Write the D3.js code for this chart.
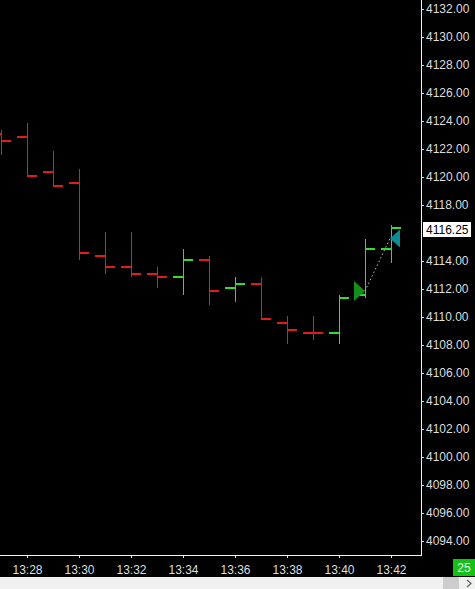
<!DOCTYPE html>
<html>
<head>
<meta charset="utf-8">
<script src="https://cdn.jsdelivr.net/npm/d3@7"></script>
<style>
  html, body { margin: 0; padding: 0; background: #000; }
  svg { display: block; }
  text { font-family: "Liberation Sans", Arial, sans-serif; }
</style>
</head>
<body>
<script>
// ---- data (1-minute OHLC bars) ----
const times  = ["13:27","13:28","13:29","13:30","13:31","13:32","13:33","13:34","13:35","13:36","13:37","13:38","13:39","13:40","13:41","13:42"];
const opens  = [4123.00,4122.75,4120.25,4119.50,4114.25,4113.50,4113.00,4112.75,4114.00,4112.00,4112.25,4109.50,4108.75,4108.75,4111.50,4114.75];
const highs  = [4123.25,4123.75,4121.75,4120.50,4116.00,4116.00,4113.50,4114.75,4114.25,4112.75,4112.75,4110.00,4110.00,4111.50,4115.50,4116.50];
const lows   = [4121.50,4120.00,4119.25,4114.00,4113.00,4112.75,4112.00,4111.50,4110.75,4111.00,4109.75,4108.00,4108.25,4108.00,4111.25,4113.75];
const closes = [4122.50,4120.00,4119.25,4114.50,4113.50,4113.00,4112.75,4114.00,4111.75,4112.25,4109.75,4109.00,4108.75,4111.25,4114.75,4116.25];

const xTickLabels = ["13:28","13:30","13:32","13:34","13:36","13:38","13:40","13:42"];
const yTickValues = [4094,4096,4098,4100,4102,4104,4106,4108,4110,4112,4114,4116,4118,4120,4122,4124,4126,4128,4130,4132];

// trade markers: entry (buy) and exit
const entryTime = "13:41", entryPrice = 4111.75;
const exitTime  = "13:42", exitPrice  = 4115.50;
const lastPrice = 4116.25;
const barCounter = "25";

// ---- layout ----
const W = 475, H = 589;
const axisX = 421, axisY = 555;
const parse = d3.timeParse("%H:%M");
const fmt = d3.timeFormat("%H:%M");

const x = d3.scaleTime().domain([parse("13:27"), parse("13:42")]).range([1, 391]);
const y = d3.scaleLinear().domain([4094, 4132]).range([541, 9]);

const bars = times.map((t, i) => ({ t: parse(t), o: opens[i], h: highs[i], l: lows[i], c: closes[i] }));

const RED = "#e01c1c", GREEN = "#33dd33", FG = "#dedede";

const svg = d3.select("body").append("svg").attr("width", W).attr("height", H);
svg.append("rect").attr("width", W).attr("height", H).attr("fill", "#000");

// plot area clip
svg.append("clipPath").attr("id", "plot").append("rect")
  .attr("x", 0).attr("y", 0).attr("width", axisX).attr("height", axisY);

const g = svg.append("g").attr("clip-path", "url(#plot)")
  .append("g").attr("transform", "translate(0,-1.5)");

const bg = g.selectAll("g.bar").data(bars).join("g").attr("class", "bar")
  .attr("stroke", d => d.c > d.o ? GREEN : RED)
  .attr("shape-rendering", "crispEdges");

bg.append("line")
  .attr("x1", d => Math.round(x(d.t)) + 0.5).attr("x2", d => Math.round(x(d.t)) + 0.5)
  .attr("y1", d => y(d.h)).attr("y2", d => y(d.l)).attr("stroke-width", 1.4);
bg.append("line")
  .attr("x1", d => Math.round(x(d.t)) - 10).attr("x2", d => Math.round(x(d.t)))
  .attr("y1", d => y(d.o)).attr("y2", d => y(d.o)).attr("stroke-width", 2);
bg.append("line")
  .attr("x1", d => Math.round(x(d.t))).attr("x2", d => Math.round(x(d.t)) + 10)
  .attr("y1", d => y(d.c)).attr("y2", d => y(d.c)).attr("stroke-width", 2);

// trade connector + markers
const ex = x(parse(entryTime)), ey = y(entryPrice);
const xx = x(parse(exitTime)) - 1, xy = y(exitPrice);
g.append("line").attr("x1", ex).attr("y1", ey).attr("x2", xx).attr("y2", xy)
  .attr("stroke", "#bdbdbd").attr("stroke-width", 1).attr("stroke-dasharray", "1.5,2.5");
g.append("path")
  .attr("d", `M${ex - 11},${ey - 10} L${ex - 11},${ey + 10} L${ex},${ey} Z`)
  .attr("fill", "#13901a");
g.append("path")
  .attr("d", `M${xx + 10},${xy - 9} L${xx + 10},${xy + 9} L${xx},${xy} Z`)
  .attr("fill", "#0e8c94");

// ---- y axis (right) ----
const yAxis = d3.axisRight(y).tickValues(yTickValues.filter(v => Math.abs(y(v) - y(lastPrice)) > 10))
  .tickSize(3).tickPadding(2).tickFormat(d3.format(".2f"));
const ya = svg.append("g").attr("transform", `translate(${axisX},0)`).call(yAxis);
ya.select(".domain").remove();
ya.selectAll("line").attr("stroke", FG).attr("shape-rendering", "crispEdges");
ya.selectAll("text").attr("fill", FG).attr("font-size", 12)
  .attr("font-family", "'Liberation Sans', Arial, sans-serif");

// ---- x axis (bottom) ----
const xAxis = d3.axisBottom(x).tickValues(xTickLabels.map(parse))
  .tickSize(3).tickPadding(7).tickFormat(fmt);
const xa = svg.append("g").attr("transform", `translate(0,${axisY})`).call(xAxis);
xa.select(".domain").remove();
xa.selectAll("line").attr("stroke", FG).attr("shape-rendering", "crispEdges");
xa.selectAll("text").attr("fill", FG).attr("font-size", 12)
  .attr("font-family", "'Liberation Sans', Arial, sans-serif");

// axis frame lines
svg.append("line").attr("x1", axisX + 0.5).attr("x2", axisX + 0.5).attr("y1", 0).attr("y2", axisY + 0.5)
  .attr("stroke", "#f2f2f2").attr("stroke-width", 1);
svg.append("line").attr("x1", 0).attr("x2", axisX + 1).attr("y1", axisY + 0.5).attr("y2", axisY + 0.5)
  .attr("stroke", "#f2f2f2").attr("stroke-width", 1);

// last price tag
const ly = y(lastPrice);
svg.append("rect").attr("x", axisX + 2).attr("y", ly - 7.5).attr("width", 48).attr("height", 15).attr("fill", "#fff");
svg.append("text").attr("x", axisX + 5).attr("y", ly).attr("dy", "0.35em")
  .attr("fill", "#000").attr("font-size", 12).text(d3.format(".2f")(lastPrice));

// bar counter box
svg.append("rect").attr("x", 453).attr("y", 559).attr("width", 22).attr("height", 17).attr("fill", "#16c016");
svg.append("text").attr("x", 464).attr("y", 567.5).attr("dy", "0.35em").attr("text-anchor", "middle")
  .attr("fill", "#f4f4f4").attr("font-size", 12).text(barCounter);

// scrollbar strip
svg.append("rect").attr("x", 0).attr("y", 577).attr("width", W).attr("height", 12).attr("fill", "#f0f0f0");
svg.append("rect").attr("x", 443).attr("y", 577).attr("width", 16).attr("height", 12).attr("fill", "#cdcdcd");
svg.append("path").attr("d", "M467,580 L471,583.5 L467,587").attr("fill", "none")
  .attr("stroke", "#606060").attr("stroke-width", 1.2);
</script>
</body>
</html>
